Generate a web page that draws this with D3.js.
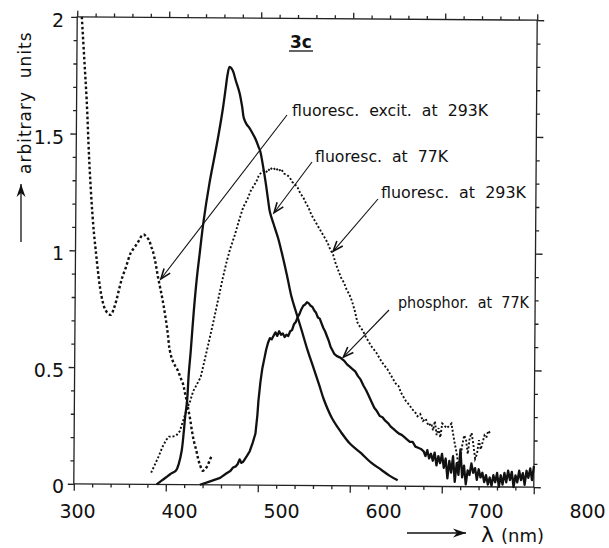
<!DOCTYPE html>
<html>
<head>
<meta charset="utf-8">
<script src="https://cdn.jsdelivr.net/npm/d3@7"></script>
<style>
  body { margin: 0; background: #fff; }
  svg { display: block; }
  text { font-family: "DejaVu Sans", sans-serif; fill: #111; white-space: pre; }
</style>
</head>
<body>
<svg id="chart" width="609" height="548"></svg>
<script>
// Axis ticks and labels
const xMajorTicks = [300, 400, 500, 600, 700, 800];
const xTickLabels = ["300", "400", "500", "600", "700", "800"];
const yMajorTicks = [0, 0.5, 1, 1.5, 2];
const yTickLabels = ["0", "0.5", "1", "1.5", "2"];

// Spectra: [wavelength (nm), intensity (arbitrary units)]
const fluorExcit293K = [
  [305,2.0],[308,1.82],[311,1.64],[314,1.40],[316,1.27],[318,1.16],[320,1.07],[322,1.0],
  [324,0.93],[327,0.84],[330,0.78],[333,0.745],[336,0.73],[339,0.725],[342,0.75],[345,0.79],
  [348,0.84],[351,0.885],[355,0.93],[360,0.99],[365,1.02],[369,1.045],[372,1.065],[374,1.07],
  [377,1.06],[380,1.045],[382,1.02],[384,1.0],[387,0.95],[390,0.885],[393,0.83],[396,0.77],
  [399,0.70],[401,0.645],[403,0.58],[406,0.535],[409,0.51],[412,0.49],[415,0.46],[418,0.43],
  [420,0.395],[422,0.36],[424,0.32],[426,0.28],[428,0.23],[430,0.19],[433,0.145],[435,0.11],
  [437,0.085],[440,0.06],[442,0.065],[445,0.08],[448,0.11],[450,0.125]
];

const fluor77K = [
  [390,0.0],[395,0.015],[400,0.03],[405,0.045],[411,0.06],[414,0.09],[417,0.145],[419,0.22],
  [420.5,0.29],[422.5,0.36],[424,0.47],[426,0.57],[429,0.74],[432,0.88],[435,0.99],[439,1.13],
  [445,1.29],[451,1.42],[455,1.51],[459,1.61],[462,1.70],[464,1.76],[466,1.79],[468,1.785],
  [470,1.77],[473,1.73],[477,1.68],[480,1.62],[482,1.57],[485,1.545],[488,1.53],[491,1.51],
  [495,1.48],[498,1.45],[500,1.43],[503,1.37],[506,1.30],[509,1.22],[511,1.17],[515,1.12],
  [520,1.06],[524,1.0],[530,0.90],[535,0.81],[540,0.745],[546,0.67],[553,0.58],[560,0.50],
  [566,0.43],[571,0.37],[580,0.29],[590,0.23],[600,0.18],[612,0.14],[623,0.10],[634,0.07],
  [643,0.045],[652,0.025]
];

const fluor293K = [
  [384,0.05],[388,0.085],[392,0.12],[396,0.16],[400,0.19],[403,0.205],[407,0.205],[411,0.21],
  [415,0.23],[418,0.27],[422,0.32],[426,0.36],[429,0.40],[433,0.43],[437,0.46],[441,0.53],
  [445,0.60],[450,0.69],[455,0.785],[460,0.88],[464,0.95],[468,1.01],[473,1.07],[478,1.14],
  [482,1.19],[486,1.22],[490,1.26],[493,1.28],[496,1.30],[499,1.33],[502,1.34],[505,1.35],
  [508,1.34],[511,1.36],[514,1.35],[517,1.36],[520,1.345],[523,1.355],[526,1.335],[529,1.33],
  [532,1.32],[535,1.30],[538,1.29],[541,1.275],[544,1.25],[547,1.235],[550,1.21],[553,1.19],
  [556,1.16],[559,1.14],[562,1.12],[565,1.10],[568,1.08],[571,1.06],[574,1.04],[577,1.01],
  [580,0.99],[583,0.95],[586,0.92],[589,0.89],[592,0.87],[595,0.84],[598,0.82],[601,0.79],
  [604,0.75],[607,0.70],[610,0.68],[613,0.665],[616,0.64],[619,0.62],[622,0.60],[625,0.585],
  [628,0.57],[631,0.55],[634,0.53],[637,0.515],[640,0.50],[643,0.48],[646,0.46],[649,0.44],
  [652,0.43],[655,0.40],[658,0.38],[661,0.36],[664,0.35],[667,0.33],[670,0.32],[673,0.30],
  [676,0.31],[679,0.28],[682,0.29],[685,0.26],[688,0.27],[690,0.24],[692,0.28],[694,0.22],
  [696,0.25],[698,0.21],[700,0.27],[705,0.25],[710,0.27],[713,0.20],[716,0.14],[718,0.09],
  [720,0.12],[722,0.18],[724,0.22],[726,0.20],[728,0.14],[730,0.21],[732,0.23],[734,0.18],
  [736,0.12],[738,0.14],[740,0.20],[742,0.16],[744,0.19],[746,0.22],[748,0.21],[750,0.24],
  [752,0.23]
];

const phosphor77K = [
  [437,0.0],[445,0.01],[452,0.02],[459,0.03],[466,0.05],[470,0.06],[473,0.075],[476,0.08],
  [478,0.09],[480,0.11],[482,0.095],[484,0.10],[488,0.125],[491,0.145],[494,0.18],[497,0.22],
  [499,0.30],[500,0.36],[502,0.44],[504,0.50],[506,0.54],[508,0.58],[510,0.61],[512,0.63],
  [514,0.625],[516,0.64],[518,0.655],[520,0.64],[522,0.66],[524,0.645],[526,0.65],[528,0.635],
  [530,0.645],[532,0.64],[534,0.66],[536,0.665],[538,0.69],[540,0.70],[542,0.72],[544,0.735],
  [546,0.755],[548,0.77],[550,0.775],[552,0.785],[554,0.78],[556,0.77],[558,0.765],[560,0.75],
  [562,0.74],[564,0.72],[566,0.715],[568,0.695],[570,0.675],[572,0.66],[574,0.64],[576,0.62],
  [578,0.595],[580,0.58],[582,0.565],[585,0.555],[588,0.55],[590,0.545],[593,0.535],[596,0.52],
  [599,0.51],[602,0.50],[605,0.49],[608,0.47],[611,0.455],[614,0.43],[617,0.41],[620,0.385],
  [623,0.36],[626,0.335],[629,0.32],[632,0.30],[635,0.295],[638,0.28],[641,0.27],[644,0.255],
  [647,0.245],[650,0.235],[653,0.225],[656,0.22],[659,0.21],[662,0.20],[665,0.19],[668,0.19],
  [671,0.17],[674,0.165],[677,0.16],[680,0.15],[682,0.13],[684,0.155],[686,0.12],[688,0.14],
  [690,0.11],[692,0.145],[694,0.09],[696,0.13],[698,0.10],[700,0.14],[702,0.08],[704,0.12],
  [706,0.035],[708,0.11],[710,0.06],[712,0.13],[714,0.02],[716,0.10],[718,0.05],[720,0.16],
  [722,0.04],[724,0.09],[726,0.01],[728,0.07],[730,0.05],[732,0.10],[734,0.06],[736,0.08],
  [738,0.03],[740,0.075],[742,0.04],[744,0.06],[746,0.02],[748,0.05],[750,0.01],[752,0.04],
  [754,0.005],[756,0.05],[758,0.02],[760,0.06],[762,0.0],[764,0.05],[766,0.01],[768,0.06],
  [770,0.02],[772,0.07],[774,0.03],[776,0.065],[778,0.0],[780,0.05],[782,0.02],[784,0.07],
  [786,0.03],[788,0.06],[790,0.01],[792,0.07],[794,0.04],[796,0.08],[798,0.03],[800,0.09]
];

// Callout texts and the spectrum point each one points at
const calloutTexts = ["fluoresc.  excit.  at  293K", "fluoresc.  at  77K", "fluoresc.  at  293K", "phosphor.  at  77K"];
const calloutTargets = [[393, 0.88], [515.5, 1.167], [580, 1.004], [592, 0.551]];

const svg = d3.select("#chart");

const x = d3.scaleLinear().domain([300, 800]).range([75.5, 535.5]);
const y = d3.scaleLinear().domain([0, 2]).range([485.5, 18.5]);

// The frame and spectra sit slightly tilted on the page
const tilt = 0.42, cx = 305.5, cy = 252;
const tr = tilt * Math.PI / 180;
function toPage(nm, v) {
  const px = x(nm) - cx, py = y(v) - cy;
  return [cx + px * Math.cos(tr) - py * Math.sin(tr), cy + px * Math.sin(tr) + py * Math.cos(tr)];
}

const plot = svg.append("g").attr("transform", `rotate(${tilt},${cx},${cy})`);

// Frame
plot.append("rect")
  .attr("x", x(300)).attr("y", y(2))
  .attr("width", x(800) - x(300)).attr("height", y(0) - y(2))
  .attr("fill", "none").attr("stroke", "#222").attr("stroke-width", 1.3);

const xMinor = d3.range(300, 801, 20).filter(d => d % 100 !== 0);
const yMinor = d3.range(0, 21).map(d => d / 10).filter(d => Math.round(d * 10) % 5 !== 0);

function addAxis(gen, transform) {
  const g = plot.append("g").attr("transform", transform).call(gen);
  g.select(".domain").remove();
  g.selectAll("line").attr("stroke", "#222").attr("stroke-width", 1.3);
  return g;
}
const bottomT = `translate(0,${y(0)})`, topT = `translate(0,${y(2)})`;
const leftT = `translate(${x(300)},0)`, rightT = `translate(${x(800)},0)`;
addAxis(d3.axisBottom(x).tickValues(xMajorTicks).tickSize(7).tickFormat(""), bottomT);
addAxis(d3.axisBottom(x).tickValues(xMinor).tickSize(3.5).tickFormat(""), bottomT);
addAxis(d3.axisTop(x).tickValues(xMajorTicks).tickSize(6).tickFormat(""), topT);
addAxis(d3.axisTop(x).tickValues(xMinor).tickSize(3.5).tickFormat(""), topT);
addAxis(d3.axisLeft(y).tickValues(yMajorTicks).tickSize(6).tickFormat(""), leftT);
addAxis(d3.axisLeft(y).tickValues(yMinor).tickSize(3.5).tickFormat(""), leftT);
addAxis(d3.axisRight(y).tickValues(yMajorTicks).tickSize(7).tickFormat(""), rightT);
addAxis(d3.axisRight(y).tickValues(yMinor).tickSize(3.5).tickFormat(""), rightT);

// Spectra
const smooth = d3.line().x(d => x(d[0])).y(d => y(d[1])).curve(d3.curveCatmullRom.alpha(0.5));
const rough = d3.line().x(d => x(d[0])).y(d => y(d[1]));

plot.append("path").datum(fluorExcit293K).attr("d", smooth)
  .attr("fill", "none").attr("stroke", "#111").attr("stroke-width", 2.4)
  .attr("stroke-dasharray", "2.6,2.4");
plot.append("path").datum(fluor293K).attr("d", rough)
  .attr("fill", "none").attr("stroke", "#111").attr("stroke-width", 1.9)
  .attr("stroke-dasharray", "2,2");
plot.append("path").datum(fluor77K).attr("d", smooth)
  .attr("fill", "none").attr("stroke", "#111").attr("stroke-width", 2.3)
  .attr("stroke-linejoin", "round");
plot.append("path").datum(phosphor77K).attr("d", rough)
  .attr("fill", "none").attr("stroke", "#111").attr("stroke-width", 2.3)
  .attr("stroke-linejoin", "round");

// Tick labels (printed slightly wider than the tick spacing)
const xLab = d3.scaleLinear().domain([300, 800]).range([77, 587]);
const yLab = d3.scaleLinear().domain([0, 2]).range([486, 20]);

const xl = svg.append("g").attr("transform", "translate(0,518)")
  .call(d3.axisBottom(xLab).tickValues(xMajorTicks).tickSize(0).tickPadding(0)
    .tickFormat((d, i) => xTickLabels[i]));
xl.select(".domain").remove();
xl.selectAll("text").attr("y", 0).attr("dy", 0).style("font-size", "19px")
  .style("font-family", "DejaVu Sans").attr("fill", "#111");

const yl = svg.append("g").attr("transform", "translate(64,0)")
  .call(d3.axisLeft(yLab).tickValues(yMajorTicks).tickSize(0).tickPadding(0)
    .tickFormat((d, i) => yTickLabels[i]));
yl.select(".domain").remove();
yl.selectAll("text").attr("dy", "0.36em").style("font-size", "19px")
  .style("font-family", "DejaVu Sans").attr("fill", "#111");

// Panel title
svg.append("text").attr("x", 290).attr("y", 48)
  .style("font-size", "17px").style("font-weight", "bold").text("3c");
svg.append("line").attr("x1", 289).attr("x2", 313).attr("y1", 51).attr("y2", 51)
  .attr("stroke", "#111").attr("stroke-width", 1.3);

// Callouts with open arrowheads: [text x, baseline, width, leader start x, leader start y]
const calloutAnchors = [[292, 116, 196, 287, 115], [315, 162, 133, 312, 162], [381, 198, 145, 378, 199], [398, 308, 131, 389, 310]];
calloutTexts.forEach((t, i) => {
  const [tx, ty, tw, lx, ly] = calloutAnchors[i];
  svg.append("text").attr("x", tx).attr("y", ty).style("font-size", "15.6px")
    .attr("textLength", tw).attr("lengthAdjust", "spacingAndGlyphs").text(t);
  const [px, py] = toPage(calloutTargets[i][0], calloutTargets[i][1]);
  svg.append("line").attr("x1", lx).attr("y1", ly).attr("x2", px).attr("y2", py)
    .attr("stroke", "#111").attr("stroke-width", 1.1);
  const ang = Math.atan2(ly - py, lx - px), len = 11, spread = 0.36;
  const b1 = [px + len * Math.cos(ang + spread), py + len * Math.sin(ang + spread)];
  const b2 = [px + len * Math.cos(ang - spread), py + len * Math.sin(ang - spread)];
  svg.append("path").attr("d", `M${b1}L${px},${py}L${b2}`)
    .attr("fill", "none").attr("stroke", "#111").attr("stroke-width", 1.6);
});

// Axis titles with filled arrows
function filledArrow(x1, y1, x2, y2) {
  svg.append("line").attr("x1", x1).attr("y1", y1).attr("x2", x2).attr("y2", y2)
    .attr("stroke", "#111").attr("stroke-width", 1.3);
  const ang = Math.atan2(y1 - y2, x1 - x2), len = 13, w = 4.5;
  const bx = x2 + len * Math.cos(ang), by = y2 + len * Math.sin(ang);
  const nx = -Math.sin(ang) * w, ny = Math.cos(ang) * w;
  const ix = x2 + len * 0.7 * Math.cos(ang), iy = y2 + len * 0.7 * Math.sin(ang);
  svg.append("path").attr("d", `M${x2},${y2}L${bx + nx},${by + ny}L${ix},${iy}L${bx - nx},${by - ny}Z`)
    .attr("fill", "#111");
}
filledArrow(407, 533, 466, 533);
svg.append("text").attr("x", 481).attr("y", 542).style("font-size", "22px").text("λ");
svg.append("text").attr("x", 501).attr("y", 542).style("font-size", "18px").text("(nm)");

filledArrow(21, 242, 21, 184);
svg.append("text").attr("transform", "translate(31,174) rotate(-90)")
  .style("font-size", "17px").style("letter-spacing", "1px").text("arbitrary  units");
</script>
</body>
</html>
